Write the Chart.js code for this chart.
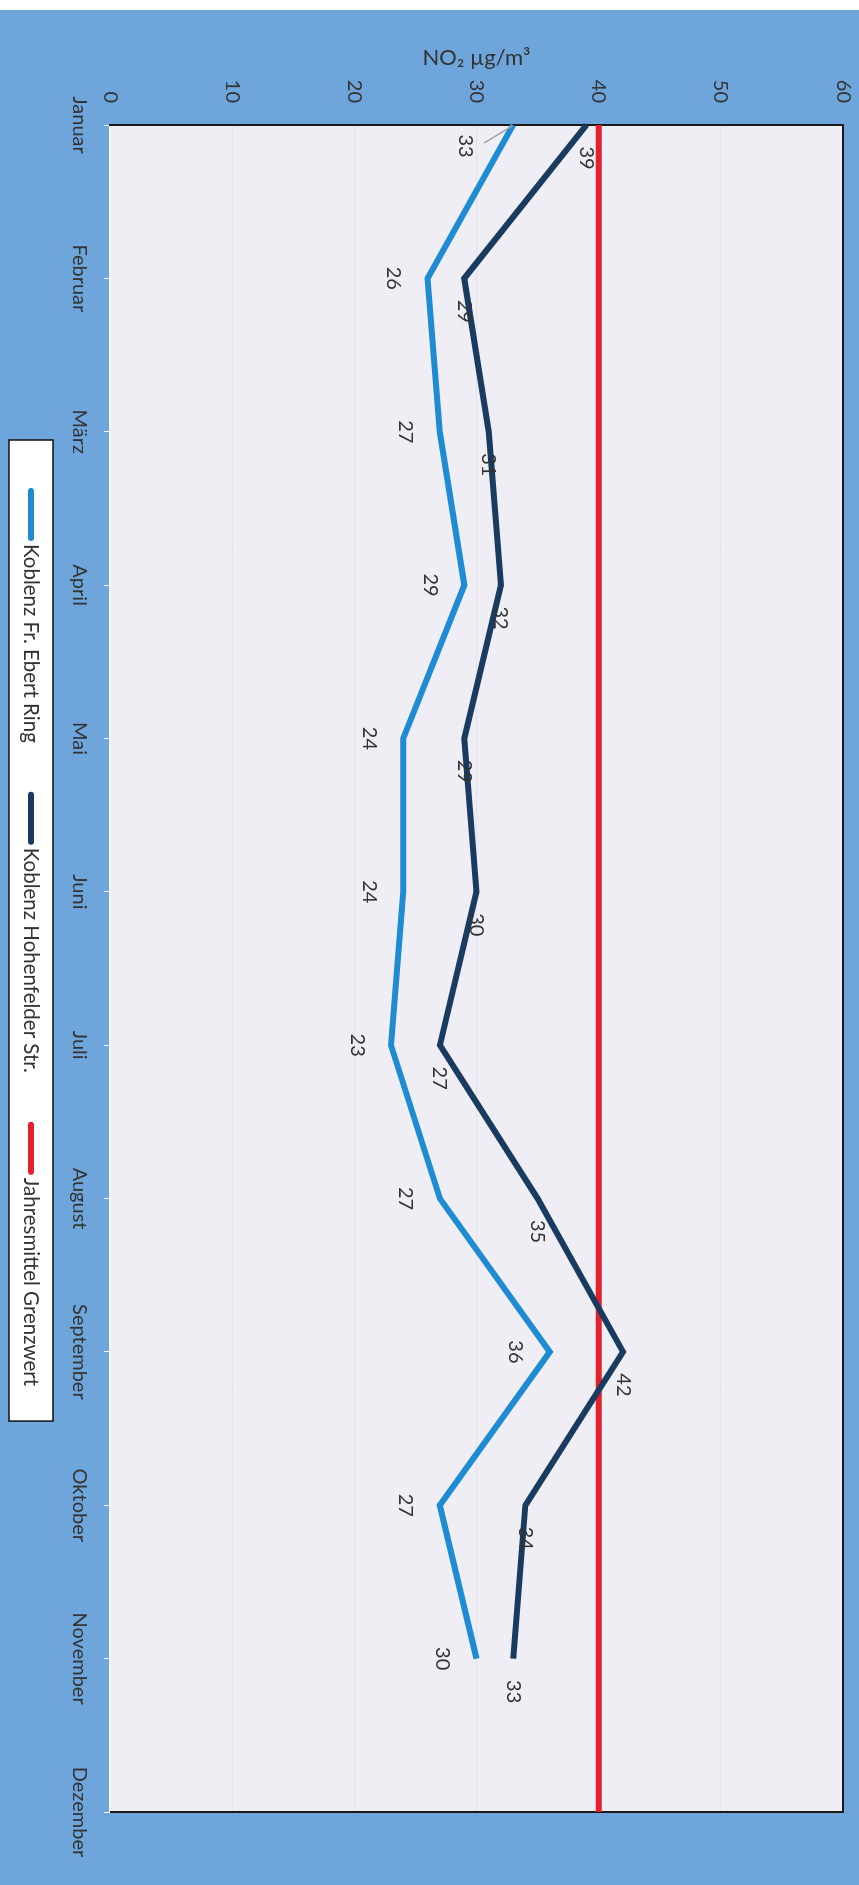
<!DOCTYPE html>
<html>
<head>
<meta charset="utf-8">
<script src="https://cdn.jsdelivr.net/npm/chart.js@4/dist/chart.umd.min.js"></script>
<style>
  html, body { margin: 0; padding: 0; background: #fff; overflow: hidden; }
  /* chart is laid out landscape and turned a quarter clockwise onto the page */
  #wrap {
    position: absolute; left: 0; top: 0;
    width: 1885px; height: 859px;
    transform-origin: 0 0;
    transform: translateX(859px) rotate(90deg);
  }
</style>
</head>
<body>
<div id="wrap"><canvas id="no2" width="1885" height="859"></canvas></div>
<script>
const monate = ['Januar', 'Februar', 'März', 'April', 'Mai', 'Juni', 'Juli', 'August', 'September', 'Oktober', 'November', 'Dezember'];
const ebertRing   = [33, 26, 27, 29, 24, 24, 23, 27, 36, 27, 30, null];
const hohenfelder = [39, 29, 31, 32, 29, 30, 27, 35, 42, 34, 33, null];
const grenzwert   = [40, 40, 40, 40, 40, 40, 40, 40, 40, 40, 40, 40];
const werteTicks  = [0, 10, 20, 30, 40, 50, 60];

const FONT = "Lato, 'Noto Sans', sans-serif";
const TEXT = '#333333';

// background: white strip at the edge, blue frame, pale plot area
const hintergrund = {
  id: 'hintergrund',
  beforeDraw(chart) {
    const { ctx, chartArea: a, width, height } = chart;
    ctx.save();
    ctx.fillStyle = '#ffffff';
    ctx.fillRect(0, 0, width, height);
    ctx.fillStyle = '#6ea6dc';
    ctx.fillRect(10, 0, width - 10, height);
    ctx.fillStyle = '#efeef5';
    ctx.fillRect(a.left, a.top, a.right - a.left, a.bottom - a.top);
    ctx.restore();
  },
  beforeDatasetsDraw(chart) {
    const { ctx, chartArea: a } = chart;
    ctx.save();
    ctx.strokeStyle = '#1a1a1a';
    ctx.lineWidth = 2;
    ctx.beginPath();
    ctx.moveTo(a.left, a.top);
    ctx.lineTo(a.right, a.top);
    ctx.lineTo(a.right, a.bottom);
    ctx.stroke();
    ctx.restore();
  }
};

// value labels next to the points; a label that would hit the left edge
// is pushed inside and gets a thin leader line back to its point
const wertLabels = {
  id: 'wertLabels',
  afterDatasetsDraw(chart) {
    const { ctx, chartArea: a } = chart;
    chart.data.datasets.forEach((ds, i) => {
      if (!ds.labelPos) return;
      const meta = chart.getDatasetMeta(i);
      ctx.save();
      ctx.font = '20px ' + FONT;
      ctx.textAlign = 'center';
      ctx.textBaseline = 'middle';
      meta.data.forEach((pt, j) => {
        const v = ds.data[j];
        if (v == null) return;
        const txt = String(v);
        const halb = ctx.measureText(txt).width / 2;
        let x = pt.x, y = pt.y;
        if (ds.labelPos === 'right') x += 33;
        else y += 34;
        if (x - halb < a.left) {
          x = a.left + 21;
          y += 14;
          ctx.strokeStyle = '#a3a3a8';
          ctx.lineWidth = 1.5;
          ctx.beginPath();
          ctx.moveTo(x - 3, y - 19);
          ctx.lineTo(pt.x + 1, pt.y + 1);
          ctx.stroke();
        }
        ctx.fillStyle = TEXT;
        ctx.fillText(txt, x, y);
      });
      ctx.restore();
    });
  }
};

// boxed legend under the month labels
const legende = {
  id: 'legende',
  afterDraw(chart) {
    const ctx = chart.ctx;
    const ds = chart.data.datasets;
    const swatch = 53, gap = 3, between = 49, padL = 48, padR = 35;
    const mitte = 931, top = 806, h = 44;
    ctx.save();
    ctx.font = '20.5px ' + FONT;
    const breiten = ds.map(d => ctx.measureText(d.label).width);
    const total = padL + padR + breiten.reduce((s, w) => s + swatch + gap + w, 0) + between * (ds.length - 1);
    const left = Math.round(mitte - total / 2);
    ctx.fillStyle = '#ffffff';
    ctx.fillRect(left, top, total, h);
    ctx.strokeStyle = '#111111';
    ctx.lineWidth = 1.5;
    ctx.strokeRect(left, top, total, h);
    let x = left + padL;
    const cy = top + h / 2;
    ds.forEach((d, i) => {
      ctx.strokeStyle = d.borderColor;
      ctx.lineWidth = 6;
      ctx.lineCap = 'round';
      ctx.beginPath();
      ctx.moveTo(x + 3, cy);
      ctx.lineTo(x + swatch - 3, cy);
      ctx.stroke();
      x += swatch + gap;
      ctx.fillStyle = TEXT;
      ctx.textAlign = 'left';
      ctx.textBaseline = 'middle';
      ctx.fillText(d.label, x, cy);
      x += breiten[i] + between;
    });
    ctx.restore();
  }
};

new Chart(document.getElementById('no2'), {
  type: 'line',
  data: {
    labels: monate,
    datasets: [
      { label: 'Koblenz Fr. Ebert Ring', data: ebertRing, borderColor: '#1f8bd2', labelPos: 'below' },
      { label: 'Koblenz Hohenfelder Str.', data: hohenfelder, borderColor: '#1a3b60', labelPos: 'right' },
      { label: 'Jahresmittel Grenzwert', data: grenzwert, borderColor: '#e3202b' }
    ]
  },
  options: {
    responsive: false,
    devicePixelRatio: 1,
    animation: false,
    layout: { padding: { left: 10, top: 16, right: 73, bottom: 0 } },
    elements: {
      line: { borderWidth: 6, tension: 0, borderJoinStyle: 'miter', fill: false },
      point: { radius: 0, hoverRadius: 0 }
    },
    plugins: {
      legend: { display: false },
      tooltip: { enabled: false }
    },
    scales: {
      x: {
        afterFit: s => { s.height = 110; },
        grid: { drawOnChartArea: false, drawTicks: true, tickLength: 6, color: '#ffffff' },
        border: { color: '#f5f5fa', width: 2 },
        ticks: { autoSkip: false, maxRotation: 0, padding: 13, color: TEXT, font: { family: FONT, size: 20 } }
      },
      y: {
        min: 0,
        max: 60,
        afterFit: s => { s.width = 115; },
        afterBuildTicks: s => { s.ticks = werteTicks.map(v => ({ value: v })); },
        // invisible tick marks keep the labels away from the axis
        grid: { color: '#e2e2ea', lineWidth: 1, drawTicks: true, tickLength: 19, tickColor: 'rgba(0,0,0,0)' },
        border: { color: '#1a1a1a', width: 2 },
        ticks: { padding: 3, color: TEXT, font: { family: FONT, size: 20 } },
        title: {
          display: true,
          text: 'NO₂ µg/m³',
          color: TEXT,
          padding: { top: 35, bottom: 0 },
          font: { family: FONT, size: 22 }
        }
      }
    }
  },
  plugins: [hintergrund, wertLabels, legende]
});
</script>
</body>
</html>
